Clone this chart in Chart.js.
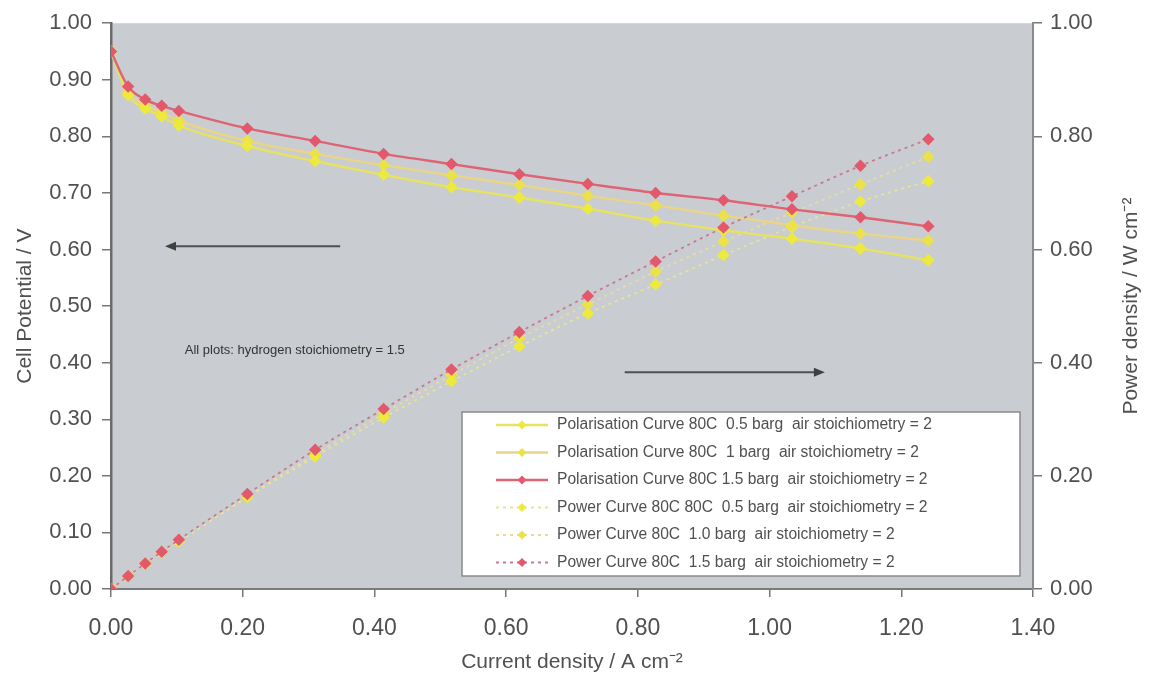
<!DOCTYPE html>
<html>
<head>
<meta charset="utf-8">
<title>Polarisation and power curves</title>
<script src="https://cdn.jsdelivr.net/npm/chart.js@4"></script>
<style>
  html, body { margin: 0; padding: 0; background: #fff; }
  #wrap { width: 1157px; height: 679px; }
</style>
</head>
<body>
<div id="wrap"><canvas id="fcChart" width="1157" height="679"></canvas></div>
<script>
// current density, A cm-2
const currentDensity = [0, 0.026, 0.052, 0.077, 0.103, 0.207, 0.310, 0.414, 0.517, 0.620, 0.724, 0.827, 0.930, 1.034, 1.138, 1.241];

// cell potential, V
const polar05 = [0.95, 0.873, 0.849, 0.835, 0.819, 0.783, 0.756, 0.732, 0.710, 0.692, 0.672, 0.651, 0.634, 0.619, 0.602, 0.581];
const polar10 = [0.95, 0.878, 0.855, 0.842, 0.828, 0.792, 0.769, 0.749, 0.731, 0.714, 0.695, 0.678, 0.660, 0.643, 0.628, 0.616];
const polar15 = [0.95, 0.888, 0.865, 0.854, 0.845, 0.814, 0.792, 0.769, 0.751, 0.733, 0.716, 0.700, 0.687, 0.671, 0.657, 0.641];

// power density, W cm-2
const power05 = [0, 0.023, 0.044, 0.064, 0.084, 0.162, 0.234, 0.303, 0.367, 0.429, 0.487, 0.538, 0.590, 0.640, 0.685, 0.721];
const power10 = [0, 0.023, 0.045, 0.065, 0.085, 0.164, 0.238, 0.310, 0.378, 0.443, 0.503, 0.561, 0.614, 0.665, 0.715, 0.764];
const power15 = [0, 0.023, 0.045, 0.066, 0.087, 0.168, 0.246, 0.318, 0.388, 0.454, 0.518, 0.579, 0.639, 0.694, 0.748, 0.795];

const leftTicks = [0, 0.1, 0.2, 0.3, 0.4, 0.5, 0.6, 0.7, 0.8, 0.9, 1.0];
const rightTicks = [0, 0.2, 0.4, 0.6, 0.8, 1.0];
const xTicks = [0, 0.2, 0.4, 0.6, 0.8, 1.0, 1.2, 1.4];

const FONT = '"Liberation Sans", Arial, sans-serif';
const TEXT = '#505050';

function pts(ys) {
    return currentDensity.map((x, i) => ({ x: x, y: ys[i] }));
}

function series(label, ys, axis, line, marker, dotted, order) {
    return {
        label: label,
        data: pts(ys),
        yAxisID: axis,
        borderColor: line,
        backgroundColor: marker,
        pointBackgroundColor: marker,
        pointBorderColor: marker,
        pointStyle: 'rectRot',
        pointRadius: 5.2,
        pointBorderWidth: 1.5,
        borderWidth: dotted ? 1.8 : 2.4,
        borderDash: dotted ? [3, 4] : [],
        cubicInterpolationMode: 'monotone',
        order: order
    };
}

// grey plot area, axis titles, legend box, arrows and the note
const decor = {
    id: 'decor',
    beforeDraw(chart) {
        const { ctx, chartArea: a } = chart;
        ctx.save();
        ctx.fillStyle = '#c9ccd1';
        ctx.fillRect(a.left, a.top, a.right - a.left, a.bottom - a.top);
        ctx.restore();
    },
    afterDraw(chart) {
        const { ctx, chartArea: a, scales } = chart;
        const xs = scales.x, ys = scales.y;
        const midY = (a.top + a.bottom) / 2;

        ctx.save();
        // vertical axis titles, both reading bottom to top
        ctx.fillStyle = TEXT;
        ctx.font = '21px ' + FONT;
        ctx.textAlign = 'center';
        ctx.textBaseline = 'middle';
        ctx.save();
        ctx.translate(25, midY);
        ctx.rotate(-Math.PI / 2);
        ctx.fillText('Cell Potential / V', 0, 0);
        ctx.restore();
        ctx.save();
        ctx.translate(1131, midY);
        ctx.rotate(-Math.PI / 2);
        ctx.fillText('Power density / W cm\u207B\u00B2', 0, 0);
        ctx.restore();

        function arrow(x0, x1, y) {
            const px0 = xs.getPixelForValue(x0), px1 = xs.getPixelForValue(x1);
            const py = ys.getPixelForValue(y);
            const dir = Math.sign(px1 - px0);
            ctx.strokeStyle = '#505050';
            ctx.fillStyle = '#404040';
            ctx.lineWidth = 2;
            ctx.beginPath();
            ctx.moveTo(px0, py);
            ctx.lineTo(px1 - dir * 8, py);
            ctx.stroke();
            ctx.beginPath();
            ctx.moveTo(px1, py);
            ctx.lineTo(px1 - dir * 11, py - 4.5);
            ctx.lineTo(px1 - dir * 11, py + 4.5);
            ctx.closePath();
            ctx.fill();
        }
        arrow(0.348, 0.082, 0.606);
        arrow(0.780, 1.084, 0.383);

        ctx.fillStyle = '#333';
        ctx.font = '13px ' + FONT;
        ctx.textAlign = 'left';
        ctx.fillText('All plots: hydrogen stoichiometry = 1.5', xs.getPixelForValue(0.112), ys.getPixelForValue(0.421));

        // legend box inside the plot area
        const bx = 462, by = 412, bw = 558, bh = 164;
        ctx.fillStyle = '#ffffff';
        ctx.fillRect(bx, by, bw, bh);
        ctx.strokeStyle = '#8a8a8a';
        ctx.lineWidth = 1.5;
        ctx.strokeRect(bx, by, bw, bh);

        ctx.font = '15.6px ' + FONT;
        chart.data.datasets.forEach((ds, i) => {
            const cy = by + 13 + i * 27.5;
            ctx.strokeStyle = ds.borderColor;
            ctx.lineWidth = ds.borderWidth;
            ctx.setLineDash(ds.borderDash);
            ctx.beginPath();
            ctx.moveTo(bx + 34, cy);
            ctx.lineTo(bx + 86, cy);
            ctx.stroke();
            ctx.setLineDash([]);
            ctx.fillStyle = ds.pointBackgroundColor;
            ctx.beginPath();
            ctx.moveTo(bx + 60, cy - 4.5);
            ctx.lineTo(bx + 64.5, cy);
            ctx.lineTo(bx + 60, cy + 4.5);
            ctx.lineTo(bx + 55.5, cy);
            ctx.closePath();
            ctx.fill();
            ctx.fillStyle = TEXT;
            ctx.fillText(ds.label, bx + 95, cy);
        });
        ctx.restore();
    }
};

const ctx = document.getElementById('fcChart').getContext('2d');
new Chart(ctx, {
    type: 'line',
    data: {
        datasets: [
            series('Polarisation Curve 80C  0.5 barg  air stoichiometry = 2', polar05, 'y', '#e6e262', '#eeea3c', false, 2),
            series('Polarisation Curve 80C  1 barg  air stoichiometry = 2', polar10, 'y', '#e9d585', '#ebe24a', false, 2),
            series('Polarisation Curve 80C 1.5 barg  air stoichiometry = 2', polar15, 'y', '#de6474', '#e3596b', false, 1),
            series('Power Curve 80C 80C  0.5 barg  air stoichiometry = 2', power05, 'y2', '#e4e49a', '#eeea3c', true, 2),
            series('Power Curve 80C  1.0 barg  air stoichiometry = 2', power10, 'y2', '#e6dca2', '#ebe24a', true, 2),
            series('Power Curve 80C  1.5 barg  air stoichiometry = 2', power15, 'y2', '#c87a8c', '#e3596b', true, 1)
        ]
    },
    options: {
        responsive: false,
        animation: false,
        events: [],
        layout: { padding: { top: 18, left: 0, right: 0, bottom: 0 } },
        plugins: {
            legend: { display: false },
            tooltip: { enabled: false }
        },
        scales: {
            x: {
                type: 'linear',
                min: 0,
                max: 1.4,
                afterBuildTicks: s => { s.ticks = xTicks.map(v => ({ value: v })); },
                afterFit: s => { s.height = 90; },
                ticks: {
                    callback: v => v.toFixed(2),
                    color: TEXT,
                    font: { family: FONT, size: 23 },
                    padding: 18,
                    maxRotation: 0
                },
                grid: { drawOnChartArea: false, tickLength: 8, color: '#777', lineWidth: 1.5 },
                border: { color: '#7a7a7a', width: 2 },
                title: {
                    display: true,
                    text: 'Current density / A cm\u207B\u00B2',
                    color: TEXT,
                    font: { family: FONT, size: 21 },
                    padding: { top: 0 }
                }
            },
            y: {
                position: 'left',
                min: 0,
                max: 1,
                afterBuildTicks: s => { s.ticks = leftTicks.map(v => ({ value: v })); },
                afterFit: s => { s.width = 111; },
                ticks: {
                    callback: v => v.toFixed(2),
                    color: TEXT,
                    font: { family: FONT, size: 22 },
                    padding: 10
                },
                grid: { drawOnChartArea: false, tickLength: 9, color: '#777', lineWidth: 1.5 },
                border: { color: '#6a6a6a', width: 2.5 }
            },
            y2: {
                position: 'right',
                min: 0,
                max: 1,
                afterBuildTicks: s => { s.ticks = rightTicks.map(v => ({ value: v })); },
                afterFit: s => { s.width = 124; },
                ticks: {
                    callback: v => v.toFixed(2),
                    color: TEXT,
                    font: { family: FONT, size: 22 },
                    padding: 8
                },
                grid: { drawOnChartArea: false, tickLength: 9, color: '#777', lineWidth: 1.5 },
                border: { color: '#8a8a8a', width: 2 }
            }
        }
    },
    plugins: [decor]
});
</script>
</body>
</html>
